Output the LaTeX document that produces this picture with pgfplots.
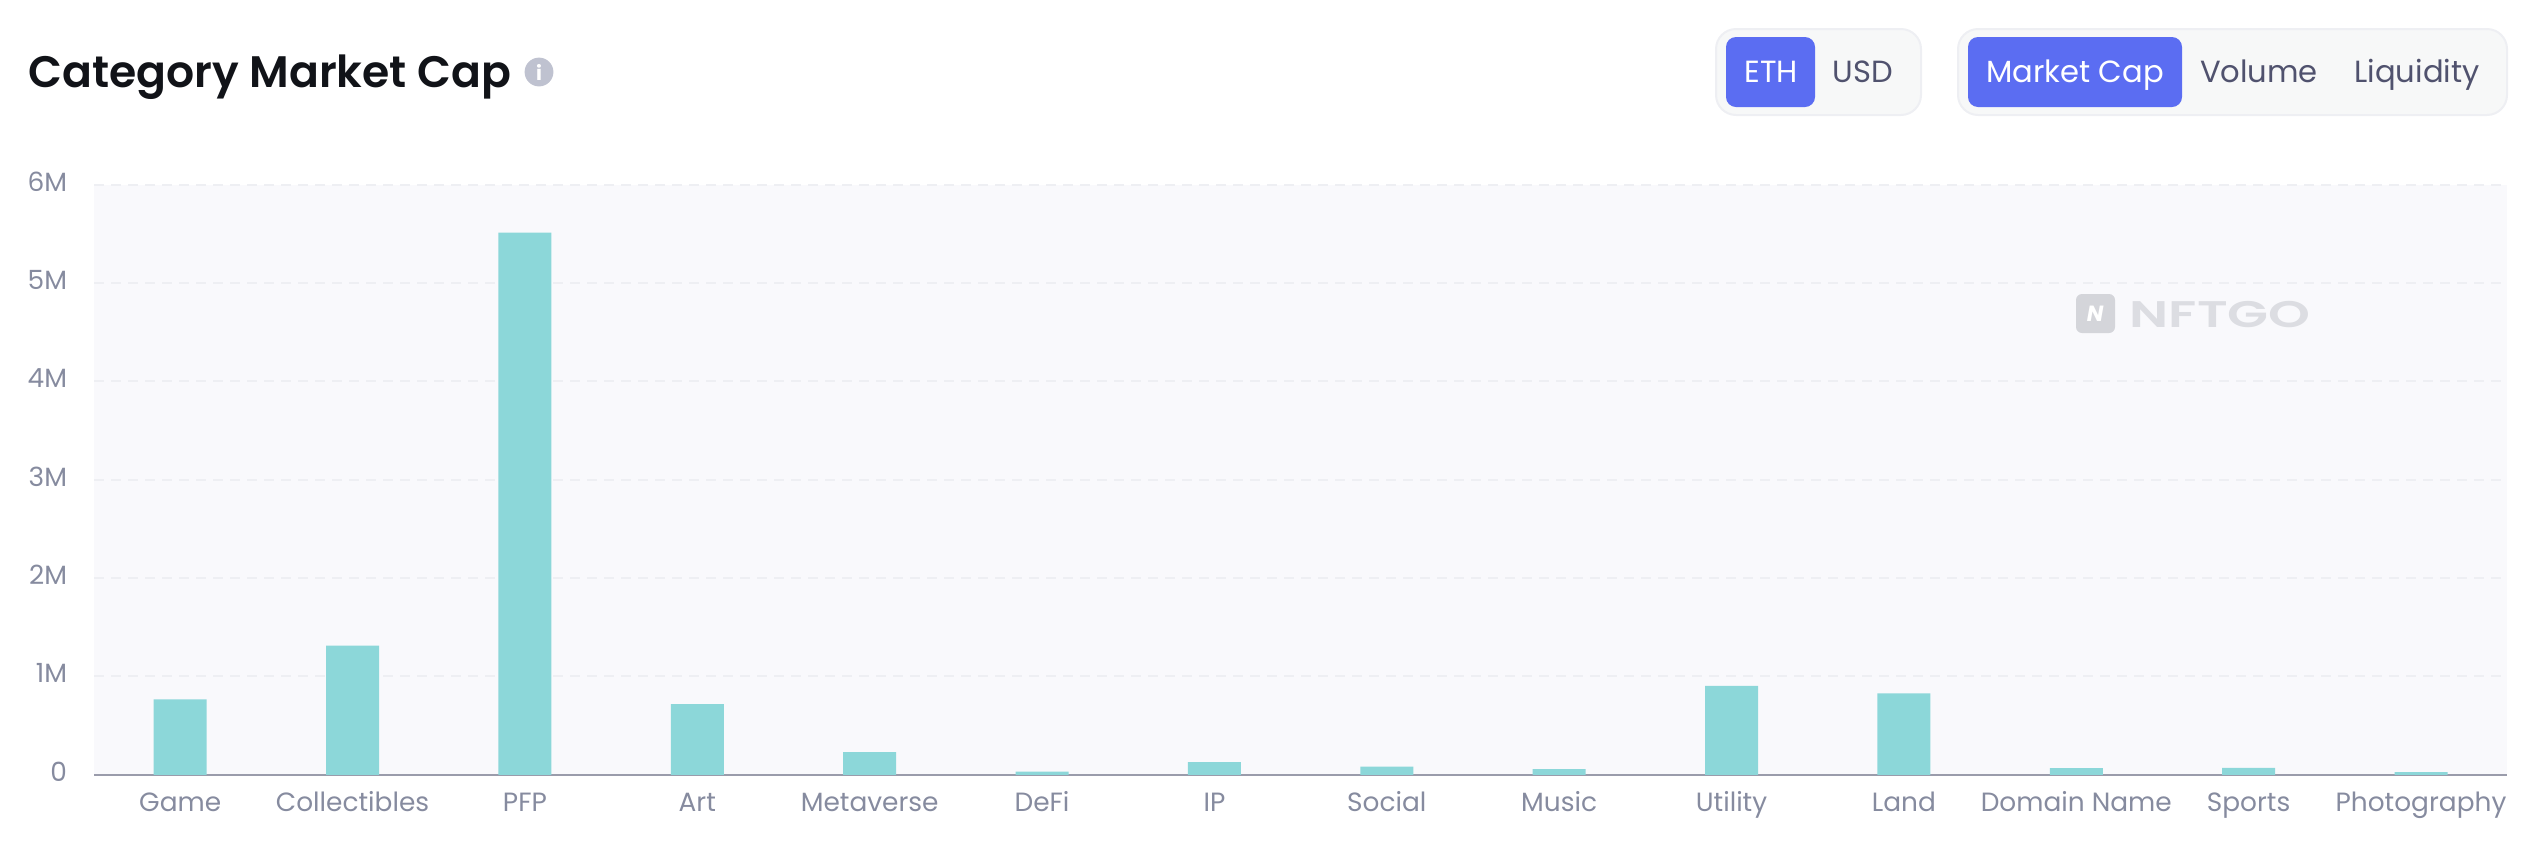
\documentclass[border=0pt]{standalone}
\usepackage{fontspec}
\setmainfont{Poppins}
\newfontfamily\semibold{Poppins SemiBold}
\newfontfamily\medium{Poppins Medium}
\usepackage{pgfplots}
\usepackage{pgfplotstable}
\pgfplotsset{compat=1.18}
\usetikzlibrary{calc}

\definecolor{plotbg}{HTML}{F9F9FC}
\definecolor{gridc}{HTML}{EEEFF3}
\definecolor{barc}{HTML}{8CD7D9}
\definecolor{axisc}{HTML}{9A9CAB}
\definecolor{tickc}{HTML}{868B9F}
\definecolor{titlec}{HTML}{111318}
\definecolor{btnbg}{HTML}{F7F8F8}
\definecolor{btnline}{HTML}{EEEFF3}
\definecolor{btnblue}{HTML}{5B6DF2}
\definecolor{btntext}{HTML}{50526E}
\definecolor{infoc}{HTML}{BFC2D0}
\definecolor{wmtext}{HTML}{DCDDE2}
\definecolor{wmlogo}{HTML}{D4D5DA}

% value in ETH per category
\pgfplotstableread{
x y
0 768000
1 1315000
2 5515000
3 720000
4 230000
5 32000
6 128000
7 84000
8 57000
9 905000
10 828000
11 67000
12 70000
13 27000
}\capdata

\begin{document}
\begin{tikzpicture}[x=0.5pt,y=-0.5pt]
\useasboundingbox (0,0) rectangle (2538,864);

% chart
\begin{axis}[
    at={(47pt,-387.4pt)}, anchor=south west,
    scale only axis,
    width=1206.6pt, height=295pt,
    xmin=-0.5, xmax=13.5,
    ymin=0, ymax=6000000,
    axis x line*=bottom, axis y line*=left,
    x axis line style={draw=axisc, line width=1.25pt},
    y axis line style={draw=none},
    axis background/.style={fill=plotbg},
    ymajorgrids,
    grid style={draw=gridc, line width=1pt, dash pattern=on 5pt off 3.5pt},
    major tick length=0pt,
    xtick={0,...,13},
    xticklabels={Game,Collectibles,PFP,Art,Metaverse,DeFi,IP,Social,Music,Utility,Land,Domain Name,Sports,Photography},
    ytick={0,1000000,2000000,3000000,4000000,5000000,6000000},
    yticklabels={0,1M,2M,3M,4M,5M,6M},
    scaled y ticks=false,
    xticklabel style={anchor=base, yshift=-18.3pt, font=\fontsize{13.2}{15}\selectfont, text=tickc, inner sep=0pt, outer sep=0pt},
    yticklabel style={anchor=base east, xshift=-13.5pt, yshift=-3.1pt, font=\fontsize{13.2}{15}\selectfont, text=tickc, inner sep=0pt, outer sep=0pt},
]
\addplot[ybar, bar width=26.5pt, fill=barc, draw=none] table[x=x,y=y] {\capdata};
\end{axis}

% title and info icon
\node[anchor=base west, inner sep=0pt, text=titlec, font=\semibold\fontsize{22.05}{26}\selectfont] at (28,87) {Category Market Cap};
\fill[infoc] (539,72) circle (7.2pt);
\node[text=white, inner sep=0pt, font=\bfseries\fontsize{10}{12}\selectfont] at (539,72) {i};

% unit switch
\draw[fill=btnbg, draw=btnline, line width=1pt, rounded corners=10pt] (1716,29) rectangle (1921,115);
\fill[btnblue, rounded corners=5pt] (1726,37) rectangle (1815,107);
\node[anchor=base, inner sep=0pt, text=white, font=\fontsize{15.3}{18}\selectfont] at (1771,82) {ETH};
\node[anchor=base, inner sep=0pt, text=btntext, font=\fontsize{15.3}{18}\selectfont] at (1863,82) {USD};

% metric switch
\draw[fill=btnbg, draw=btnline, line width=1pt, rounded corners=10pt] (1958,29) rectangle (2507,115);
\fill[btnblue, rounded corners=5pt] (1968,37) rectangle (2182,107);
\node[anchor=base, inner sep=0pt, text=white, font=\fontsize{15.3}{18}\selectfont] at (2075,82) {Market Cap};
\node[anchor=base, inner sep=0pt, text=btntext, font=\fontsize{15.3}{18}\selectfont] at (2259,82) {Volume};
\node[anchor=base, inner sep=0pt, text=btntext, font=\fontsize{15.3}{18}\selectfont] at (2417,82) {Liquidity};

% watermark
\fill[wmlogo, rounded corners=3pt] (2076,294) rectangle (2115,333);
\node[text=white, inner sep=0pt, font=\bfseries\itshape\fontsize{11}{12}\selectfont] at (2095,314) {N};
\node[anchor=base west, inner sep=0pt, text=wmtext, font=\semibold\fontsize{18.5}{20}\selectfont, transform shape, xscale=1.44] at (2129,327) {NFTGO};
\end{tikzpicture}
\end{document}
